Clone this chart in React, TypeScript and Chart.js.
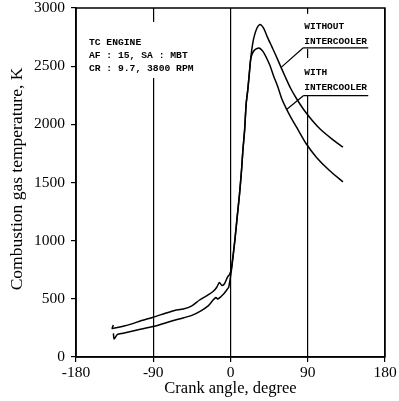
import { useEffect, useRef } from "react";
import { Chart, registerables } from "chart.js";

Chart.register(...registerables);

// Combustion gas temperature vs crank angle, turbocharged engine
const crankWithout = [
  -136.4, -137.9, -133.6, -125, -115, -105, -90, -75, -65, -55, -45, -36, -28, -20, -16, -13, -10, -7,
  -3.5, -1, 1, 5, 8, 10.5, 13, 14.4, 16.4, 18.3, 20.2, 22.2, 24.2, 26, 28, 31, 34, 36, 39, 43, 48, 53,
  58, 64, 70, 77, 85, 95, 105, 118, 131,
];
const tempWithout = [
  275, 246, 252, 265, 285, 310, 342, 378, 400, 412, 440, 490, 525, 565, 600, 640, 615, 630,
  687, 710, 760, 1000, 1220, 1400, 1620, 1774, 1946, 2180, 2300, 2461, 2607, 2700, 2767, 2830, 2858, 2852, 2820, 2750, 2670, 2590,
  2505, 2405, 2310, 2220, 2130, 2035, 1955, 1875, 1804,
];

const crankWith = [
  -136.4, -135.6, -131.7, -125, -115, -105, -90, -75, -60, -45, -35, -26, -21, -17, -15, -11, -7, -3,
  -2, 0, 1.5, 5, 8, 10.5, 13, 14.4, 16.4, 18.3, 20.2, 22.2, 23.5, 25.5, 28, 31, 34, 38, 42, 46, 50,
  55, 60, 65, 70, 77, 88, 100, 115, 131,
];
const tempWith = [
  203, 155, 195, 205, 222, 238, 262, 295, 327, 358, 395, 440, 483, 512, 498, 520, 550, 590,
  601, 690, 770, 995, 1220, 1400, 1620, 1774, 1946, 2180, 2300, 2461, 2560, 2610, 2638, 2652, 2654, 2625, 2570, 2505, 2420,
  2325, 2215, 2135, 2065, 1975, 1835, 1718, 1605, 1505,
];

const xTickValues = [-180, -90, 0, 90, 180];
const yTickValues = [0, 500, 1000, 1500, 2000, 2500, 3000];

const engineNote = ["TC ENGINE", "AF : 15, SA : MBT", "CR : 9.7, 3800 RPM"];
const labelWithout = ["WITHOUT", "INTERCOOLER"];
const labelWith = ["WITH", "INTERCOOLER"];

const SERIF = '"Liberation Serif", "Times New Roman", serif';
const MONO = '"Liberation Mono", "DejaVu Sans Mono", monospace';

const toPoints = (xs: number[], ys: number[]) => xs.map((x, i) => ({ x, y: ys[i] }));

const decorations = {
  id: "decorations",
  beforeDatasetsDraw(chart: any) {
    const { ctx, scales } = chart;
    const sx = scales.x;
    const sy = scales.y;
    ctx.save();
    ctx.fillStyle = "#fff";
    // blank the grid lines behind the text blocks
    ctx.fillRect(sx.getPixelForValue(-167), sy.getPixelForValue(2880), 116, 56);
    ctx.fillRect(sx.getPixelForValue(78), sy.getPixelForValue(2950), 75, 35);
    ctx.fillRect(sx.getPixelForValue(78), sy.getPixelForValue(2570), 75, 37);
    ctx.restore();
  },
  afterDraw(chart: any) {
    const { ctx, chartArea, scales } = chart;
    const sx = scales.x;
    const sy = scales.y;
    ctx.save();

    // frame
    ctx.strokeStyle = "#000";
    ctx.lineWidth = 1.5;
    ctx.strokeRect(chartArea.left, chartArea.top, chartArea.right - chartArea.left, chartArea.bottom - chartArea.top);

    // axis titles
    ctx.fillStyle = "#000";
    ctx.textAlign = "center";
    ctx.textBaseline = "middle";
    ctx.font = `16.5px ${SERIF}`;
    ctx.fillText("Crank angle, degree", sx.getPixelForValue(0), 389);
    ctx.save();
    ctx.translate(17, 179);
    ctx.rotate(-Math.PI / 2);
    ctx.font = `17.5px ${SERIF}`;
    ctx.fillText("Combustion gas temperature, K", 0, 0);
    ctx.restore();

    // engine conditions note
    ctx.textAlign = "left";
    ctx.font = `bold 9.7px ${MONO}`;
    const noteX = sx.getPixelForValue(-165);
    const noteY = sy.getPixelForValue(2704);
    engineNote.forEach((t, i) => ctx.fillText(t, noteX, noteY + i * 13));

    // curve labels with underline and leader
    const drawLabel = (lines: string[], topVal: number, lineVal: number, tip: [number, number]) => {
      const lx = sx.getPixelForValue(86);
      const ty = sy.getPixelForValue(topVal);
      ctx.font = `bold 9.5px ${MONO}`;
      lines.forEach((t, i) => ctx.fillText(t, lx, ty + i * 15));
      const uy = sy.getPixelForValue(lineVal);
      ctx.lineWidth = 1.2;
      ctx.beginPath();
      ctx.moveTo(lx - 1, uy);
      ctx.lineTo(sx.getPixelForValue(160.5), uy);
      ctx.moveTo(lx - 1, uy);
      ctx.lineTo(sx.getPixelForValue(tip[0]), sy.getPixelForValue(tip[1]));
      ctx.stroke();
    };
    drawLabel(labelWithout, 2838, 2658, [59, 2490]);
    drawLabel(labelWith, 2446, 2246, [65, 2125]);

    ctx.restore();
  },
};

export default function App() {
  const canvasRef = useRef<HTMLCanvasElement | null>(null);

  useEffect(() => {
    if (!canvasRef.current) return;
    const lineStyle = {
      borderColor: "#000",
      borderWidth: 1.5,
      pointRadius: 0,
      fill: false,
      tension: 0.25,
    };
    const chart = new Chart(canvasRef.current, {
      type: "line",
      data: {
        datasets: [
          { label: "Without intercooler", data: toPoints(crankWithout, tempWithout), ...lineStyle },
          { label: "With intercooler", data: toPoints(crankWith, tempWith), ...lineStyle },
        ],
      },
      options: {
        responsive: false,
        animation: false,
        events: [],
        layout: { padding: { left: 0, right: 14, top: 8, bottom: 0 } },
        plugins: { legend: { display: false }, tooltip: { enabled: false } },
        scales: {
          x: {
            type: "linear",
            min: -180,
            max: 180,
            afterFit: (s: any) => {
              s.height = 44;
              s.paddingLeft = 0;
              s.paddingRight = 0;
            },
            afterBuildTicks: (s: any) => {
              s.ticks = xTickValues.map((v) => ({ value: v }));
            },
            ticks: {
              color: "#000",
              font: { family: SERIF, size: 15.5 },
              padding: 2,
              maxRotation: 0,
              autoSkip: false,
              callback: (v: any) => String(v),
            },
            grid: { color: "#000", lineWidth: 1.2, tickLength: 5, drawOnChartArea: true },
            border: { color: "#000", width: 1.5 },
          },
          y: {
            type: "linear",
            min: 0,
            max: 3000,
            afterFit: (s: any) => {
              s.width = 76;
              s.paddingTop = 0;
              s.paddingBottom = 0;
            },
            afterBuildTicks: (s: any) => {
              s.ticks = yTickValues.map((v) => ({ value: v }));
            },
            ticks: {
              color: "#000",
              font: { family: SERIF, size: 15.5 },
              padding: 6,
              autoSkip: false,
              callback: (v: any) => String(v),
            },
            grid: { color: "#000", lineWidth: 1.2, tickLength: 5, drawOnChartArea: false },
            border: { color: "#000", width: 1.5 },
          },
        },
      },
      plugins: [decorations],
    });
    return () => chart.destroy();
  }, []);

  return (
    <div style={{ position: "fixed", left: 0, top: 0, width: 399, height: 401, background: "#fff" }}>
      <canvas ref={canvasRef} width={399} height={401} style={{ width: 399, height: 401 }} />
    </div>
  );
}
